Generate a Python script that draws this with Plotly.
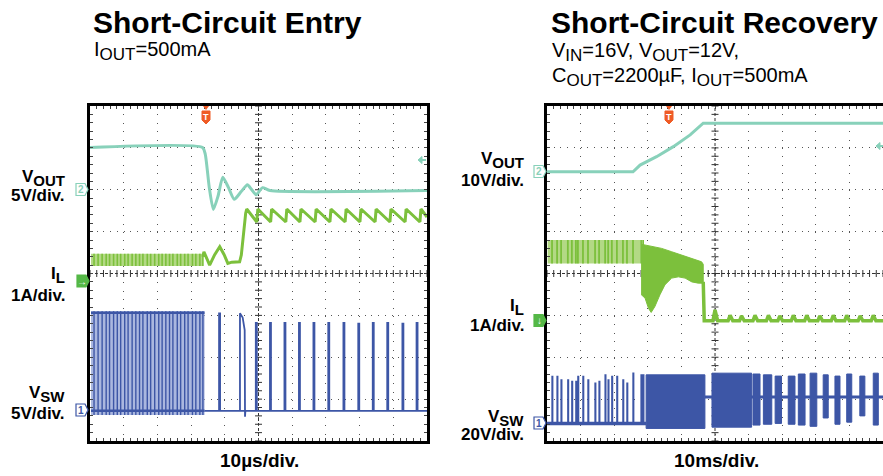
import plotly.graph_objects as go

# ---------------- DATA (x: time, y: screen divisions, 0 = bottom, 8 = top) ----------------
# Short-Circuit Entry (10 us/div) -> time axis 0..100 us
entry_vout_t = [0, 33.4, 34.2, 35.4, 36.6, 38.0, 39.4, 41.1, 42.8, 44.8, 46.7, 48.0, 49.3, 51.2, 53.4, 100]
entry_vout_y = [7.01, 7.01, 6.85, 6.05, 5.53, 5.85, 6.30, 6.05, 5.77, 5.95, 6.12, 6.00, 5.88, 6.05, 5.98, 5.98]

entry_switch_t = [1.2, 2.4, 3.6, 4.8, 5.8, 7.0, 8.1, 9.1, 10.3, 11.3, 12.5, 13.6, 14.7, 15.7, 17.0,
                  18.0, 19.2, 20.4, 21.4, 22.5, 23.6, 24.6, 25.9, 26.9, 28.1, 29.1, 30.4, 31.4, 32.6, 33.5]
entry_sw_span = [0.3, 34.0]
entry_sw_high = 3.06
entry_sw_low = 0.72
entry_sw_band = [0.62, 3.10]

entry_il_span = [0.3, 33.5]
entry_il_band = [4.18, 4.47]
entry_il_t = [33.5, 33.8, 35.5, 37.0, 38.5, 39.8, 40.9, 42.1, 44.4, 44.9, 46.2, 46.5,
              49.5, 49.8, 53.6, 53.9, 58.1, 58.4, 62.3, 62.6, 66.8, 67.1, 71.2, 71.5,
              75.7, 76.0, 80.1, 80.4, 84.6, 84.9, 89.0, 89.3, 93.5, 93.8, 97.9, 98.2, 100]
entry_il_y = [4.40, 4.52, 4.20, 4.45, 4.64, 4.45, 4.24, 4.27, 4.28, 4.44, 5.44, 5.54,
              5.23, 5.54, 5.23, 5.54, 5.23, 5.54, 5.23, 5.54, 5.23, 5.54, 5.23, 5.54,
              5.23, 5.54, 5.23, 5.54, 5.23, 5.54, 5.23, 5.54, 5.23, 5.54, 5.23, 5.54, 5.35]

entry_pulse_t = [38.3, 49.2, 53.4, 57.7, 62.0, 66.3, 70.7, 75.2, 79.6, 83.9, 88.2, 92.7, 96.9]
entry_pulse_top = [3.05, 2.82, 2.82, 2.82, 2.82, 2.82, 2.82, 2.82, 2.80, 2.82, 2.82, 2.80, 2.82]
entry_decay_t = [44.5, 44.5, 45.3, 45.9, 46.0, 46.1]
entry_decay_y = [0.72, 3.05, 2.95, 2.65, 0.58, 0.72]

# Short-Circuit Recovery (10 ms/div) -> time axis 0..100 ms
rec_vout_t = [0, 25.6, 27.7, 32.6, 37.6, 42.6, 46.5, 100]
rec_vout_y = [6.43, 6.43, 6.59, 6.79, 7.03, 7.31, 7.59, 7.59]

rec_il_span = [0.2, 27.7]
rec_il_band = [4.24, 4.80]
rec_il_up_t = [28.0, 29.2, 31.2, 34.1, 37.1, 40.1, 43.1, 46.0, 46.5]
rec_il_up_y = [4.70, 4.68, 4.64, 4.60, 4.52, 4.44, 4.36, 4.28, 4.22]
rec_il_lo_t = [28.0, 29.2, 30.2, 31.0, 32.1, 33.6, 35.1, 37.1, 39.1, 41.1, 43.1, 45.0, 46.5]
rec_il_lo_y = [3.50, 3.41, 3.17, 3.07, 3.21, 3.49, 3.73, 3.89, 3.92, 3.89, 3.80, 3.77, 3.77]
rec_il_drop_t = [46.5, 46.8]
rec_il_drop_y = [3.80, 2.87]
rec_il_base = 2.87
rec_il_ripple_t = [50.0, 54.5, 57.9, 61.9, 65.9, 69.3, 73.3, 77.3, 81.2, 85.2, 89.2, 93.2, 97.1]
rec_il_ripple_top = [3.13, 3.00, 2.99, 3.00, 3.00, 2.99, 3.00, 3.00, 2.99, 3.00, 3.00, 2.99, 3.00]

rec_switch_t = [1.5, 3.0, 4.2, 6.2, 7.4, 8.6, 9.2, 10.7, 12.2, 14.3, 15.5, 17.3, 18.2, 19.3, 20.8,
                22.6, 23.8, 25.6, 28.0, 28.6]
rec_switch_top = [1.54, 1.54, 1.46, 1.46, 1.42, 1.42, 1.54, 1.54, 1.46, 1.38, 1.42, 1.58, 1.46, 1.54,
                  1.54, 1.46, 1.38, 1.62, 1.58, 1.58]
rec_sw_low = 0.42
rec_sw_low_span = [0.0, 29.5]
rec_sw_mid = 1.05
rec_sw_mid_span = [47.0, 100]
rec_burst_start = [29.5, 49.1, 61.3, 64.4, 67.9, 71.8, 74.8, 78.3, 82.2, 85.7, 89.2, 93.1, 97.1]
rec_burst_end = [47.0, 60.9, 63.4, 66.9, 69.8, 73.8, 76.8, 80.3, 83.7, 87.2, 90.7, 94.6, 98.6]
rec_burst_top = [1.58, 1.62, 1.60, 1.58, 1.55, 1.55, 1.60, 1.62, 1.58, 1.55, 1.60, 1.55, 1.62]
rec_burst_bot = [0.30, 0.33, 0.38, 0.40, 0.42, 0.40, 0.38, 0.35, 0.55, 0.40, 0.45, 0.60, 0.38]

# ---------------- STYLE ----------------
W, H = 883, 476
TEAL = '#88d1ba'
GREEN = '#7cc03c'
GREEN_L = '#b3d985'
BLUE = '#3d56a6'
BLUE_L = '#aab7df'
ORANGE = '#ef5b25'
MGREEN = '#55b847'
FONT = 'Liberation Sans, Arial, Helvetica, sans-serif'


def PX(x):
    return x / W


def PY(y):
    return 1 - y / H


def spikes(times, tops, base, w, start, end):
    xs, ys = [start], [base]
    for t, top in zip(times, tops):
        xs += [t, t, t + w, t + w]
        ys += [base, top, top, base]
    xs.append(end)
    ys.append(base)
    return xs, ys


def vlines(times, y0, y1):
    xs, ys = [], []
    for t in times:
        xs += [t, t, None]
        ys += [y0, y1, None]
    return xs, ys


def band(span, lohi):
    return [span[0], span[1], span[1], span[0], span[0]], [lohi[0], lohi[0], lohi[1], lohi[1], lohi[0]]


fig = go.Figure()
panels = [('x', 'y'), ('x2', 'y2')]

# centre-line tick marks
for xa, ya in panels:
    fig.add_trace(go.Scatter(x=[i * 2 for i in range(51)], y=[4] * 51, xaxis=xa, yaxis=ya, mode='markers',
                             marker=dict(symbol='line-ns', size=5, line=dict(width=1, color='#333')),
                             hoverinfo='skip', showlegend=False))
    fig.add_trace(go.Scatter(x=[50] * 41, y=[i * 0.2 for i in range(41)], xaxis=xa, yaxis=ya, mode='markers',
                             marker=dict(symbol='line-ew', size=5, line=dict(width=1, color='#333')),
                             hoverinfo='skip', showlegend=False))

# ---- Entry panel ----
bx, by = band(entry_sw_span, entry_sw_band)
fig.add_trace(go.Scatter(x=bx, y=by, fill='toself', fillcolor=BLUE_L, line=dict(width=0), mode='lines',
                         hoverinfo='skip', showlegend=False))
vx, vy = vlines(entry_switch_t, entry_sw_band[0], entry_sw_band[1])
fig.add_trace(go.Scatter(x=vx, y=vy, mode='lines', line=dict(color=BLUE, width=1.4), showlegend=False))
for lvl in (entry_sw_high, entry_sw_low):
    fig.add_trace(go.Scatter(x=entry_sw_span, y=[lvl, lvl], mode='lines', line=dict(color=BLUE, width=2.5),
                             showlegend=False))
sx, sy = spikes(entry_pulse_t, entry_pulse_top, entry_sw_low, 0.3, entry_sw_span[1], 100)
fig.add_trace(go.Scatter(x=sx, y=sy, mode='lines', line=dict(color=BLUE, width=1.8), showlegend=False))
fig.add_trace(go.Scatter(x=entry_decay_t, y=entry_decay_y, mode='lines', line=dict(color=BLUE, width=1.8),
                         showlegend=False))

bx, by = band(entry_il_span, entry_il_band)
fig.add_trace(go.Scatter(x=bx, y=by, fill='toself', fillcolor=GREEN_L, line=dict(width=0), mode='lines',
                         hoverinfo='skip', showlegend=False))
vx, vy = vlines(entry_switch_t, entry_il_band[0], entry_il_band[1])
fig.add_trace(go.Scatter(x=vx, y=vy, mode='lines', line=dict(color=GREEN, width=1.6), showlegend=False))
fig.add_trace(go.Scatter(x=entry_il_t, y=entry_il_y, mode='lines', line=dict(color=GREEN, width=3),
                         showlegend=False))

fig.add_trace(go.Scatter(x=entry_vout_t, y=entry_vout_y, mode='lines',
                         line=dict(color=TEAL, width=3, shape='spline', smoothing=0.6), showlegend=False))

# ---- Recovery panel ----
fig.add_trace(go.Scatter(x=rec_sw_mid_span, y=[rec_sw_mid] * 2, xaxis='x2', yaxis='y2', mode='lines',
                         line=dict(color=BLUE, width=3), showlegend=False))
px_, py_ = [], []
for s, e, t, b in zip(rec_burst_start, rec_burst_end, rec_burst_top, rec_burst_bot):
    px_ += [s, e, e, s, s, None]
    py_ += [b, b, t, t, b, None]
fig.add_trace(go.Scatter(x=px_, y=py_, xaxis='x2', yaxis='y2', mode='lines', fill='toself', fillcolor=BLUE,
                         line=dict(color=BLUE, width=1), showlegend=False))
sx, sy = spikes(rec_switch_t, rec_switch_top, rec_sw_low, 0.2, rec_sw_low_span[0], rec_sw_low_span[1])
fig.add_trace(go.Scatter(x=sx, y=sy, xaxis='x2', yaxis='y2', mode='lines', line=dict(color=BLUE, width=1.4),
                         showlegend=False))
fig.add_trace(go.Scatter(x=rec_sw_low_span, y=[rec_sw_low] * 2, xaxis='x2', yaxis='y2', mode='lines',
                         line=dict(color=BLUE, width=3.5), showlegend=False))

bx, by = band(rec_il_span, rec_il_band)
fig.add_trace(go.Scatter(x=bx, y=by, xaxis='x2', yaxis='y2', fill='toself', fillcolor=GREEN_L,
                         line=dict(width=0), mode='lines', hoverinfo='skip', showlegend=False))
vx, vy = vlines(rec_switch_t, rec_il_band[0], rec_il_band[1])
fig.add_trace(go.Scatter(x=vx, y=vy, xaxis='x2', yaxis='y2', mode='lines', line=dict(color=GREEN, width=1.8),
                         showlegend=False))
ex = rec_il_up_t + rec_il_lo_t[::-1]
ey = rec_il_up_y + rec_il_lo_y[::-1]
fig.add_trace(go.Scatter(x=ex, y=ey, xaxis='x2', yaxis='y2', fill='toself', fillcolor=GREEN, mode='lines',
                         line=dict(color=GREEN, width=1), showlegend=False))
rx = list(rec_il_drop_t)
ry = list(rec_il_drop_y)
for t, top in zip(rec_il_ripple_t, rec_il_ripple_top):
    rx += [t - 0.6, t, t + 0.8]
    ry += [rec_il_base, top, rec_il_base]
rx.append(100)
ry.append(rec_il_base)
fig.add_trace(go.Scatter(x=rx, y=ry, xaxis='x2', yaxis='y2', mode='lines', line=dict(color=GREEN, width=3.5),
                         showlegend=False))

fig.add_trace(go.Scatter(x=rec_vout_t, y=rec_vout_y, xaxis='x2', yaxis='y2', mode='lines',
                         line=dict(color=TEAL, width=3), showlegend=False))


# ---------------- AXES ----------------
def xax(domain, anchor, mirror):
    return dict(domain=domain, anchor=anchor, range=[0, 100], dtick=10, tick0=0, showgrid=True,
                gridcolor='#555', gridwidth=1, griddash='1px,7.4px', zeroline=False, showline=True,
                linecolor='black', linewidth=2.5, mirror=mirror, ticks='inside', ticklen=3, tickcolor='#444',
                showticklabels=False, fixedrange=True,
                minor=dict(dtick=2, tick0=0, ticks='inside', ticklen=3, tickcolor='#444', showgrid=False))


def yax(domain, anchor, mirror):
    return dict(domain=domain, anchor=anchor, range=[0, 8], dtick=1, tick0=0, showgrid=True,
                gridcolor='#555', gridwidth=1, griddash='1px,5.7px', zeroline=False, showline=True,
                linecolor='black', linewidth=2.5, mirror=mirror, ticks='inside', ticklen=3, tickcolor='#444',
                showticklabels=False, fixedrange=True,
                minor=dict(dtick=0.2, tick0=0, ticks='inside', ticklen=3, tickcolor='#444', showgrid=False))


ydom = [PY(441), PY(106)]
fig.update_layout(
    width=W, height=H, autosize=False, margin=dict(l=0, r=0, t=0, b=0),
    paper_bgcolor='white', plot_bgcolor='white', showlegend=False,
    xaxis=xax([PX(90), PX(427)], 'y', 'ticks'),
    yaxis=yax(ydom, 'x', 'ticks'),
    xaxis2=xax([PX(547), 1.0], 'y2', 'ticks'),
    yaxis2=yax(ydom, 'x2', False),
)

shapes = []
for xr, yr in (('x', 'y'), ('x2', 'y2')):
    shapes.append(dict(type='line', xref=xr, yref=yr, x0=50, x1=50, y0=0, y1=8,
                       line=dict(color='#333', width=1, dash='3px,2px'), layer='below'))
    shapes.append(dict(type='line', xref=xr, yref=yr, x0=0, x1=100, y0=4, y1=4,
                       line=dict(color='#333', width=1, dash='3px,2px'), layer='below'))


def path(pts):
    return 'M ' + ' L '.join(f'{PX(x):.5f},{PY(y):.5f}' for x, y in pts) + ' Z'


def pent(x0, yc, h, fill, line):
    pts = [(x0, yc - h / 2), (x0 + 9, yc - h / 2), (x0 + 12, yc), (x0 + 9, yc + h / 2), (x0, yc + h / 2)]
    return dict(type='path', xref='paper', yref='paper', path=path(pts), fillcolor=fill,
                line=dict(color=line, width=1.2))


annotations = []


def txt(text, x, y, size, color='black', xanchor='center', yanchor='middle', bold=False):
    if bold:
        text = f'<b>{text}</b>'
    annotations.append(dict(text=text, x=PX(x), y=PY(y), xref='paper', yref='paper', showarrow=False,
                            xanchor=xanchor, yanchor=yanchor, font=dict(family=FONT, size=size, color=color)))


# channel markers
for x0, yc, col, lab, filled in ((76, 189.5, TEAL, '2', False), (77, 281, MGREEN, '→', True), (76, 410, BLUE, '1', False),
                                 (534, 171.5, TEAL, '2', False), (534, 320.5, MGREEN, '↓', True),
                                 (534, 423, BLUE, '1', False)):
    shapes.append(pent(x0, yc, 12, col if filled else 'white', col))
    txt(lab, x0 + 5, yc, 10, 'white' if filled else col, bold=True)

# trigger markers
for xc in (206, 669):
    shapes.append(dict(type='path', xref='paper', yref='paper', fillcolor=ORANGE, line=dict(color=ORANGE, width=1),
                       path=path([(xc - 4, 111), (xc + 4, 111), (xc + 4, 120), (xc, 124), (xc - 4, 120)])))
    shapes.append(dict(type='path', xref='paper', yref='paper', fillcolor=ORANGE, line=dict(color=ORANGE, width=0),
                       path=path([(xc - 3, 106), (xc + 3, 106), (xc, 110)])))
    txt('T', xc, 116.5, 9, 'white', bold=True)

# trigger level arrows
for xa, ya in ((418, 160), (876, 146)):
    shapes.append(dict(type='path', xref='paper', yref='paper', fillcolor=TEAL, line=dict(color=TEAL, width=1),
                       path=path([(xa, ya), (xa + 4, ya - 3.5), (xa + 4, ya + 3.5)])))
    shapes.append(dict(type='line', xref='paper', yref='paper', x0=PX(xa + 3), x1=PX(xa + 8), y0=PY(ya), y1=PY(ya),
                       line=dict(color=TEAL, width=2)))


def SUB(s, sz):
    return f"<sub><span style='font-size:{sz}px'>{s}</span></sub>"


# titles
txt('Short-Circuit Entry', 91, 22, 30, xanchor='left', bold=True)
txt('Short-Circuit Recovery', 549, 22, 30, xanchor='left', bold=True)
txt('I' + SUB('OUT', 17) + '=500mA', 92, 51, 20, xanchor='left')
txt('V' + SUB('IN', 17) + '=16V, V' + SUB('OUT', 17) + '=12V,', 550, 52, 20, xanchor='left')
txt('C' + SUB('OUT', 17) + '=2200µF, I' + SUB('OUT', 17) + '=500mA', 550, 77, 20, xanchor='left')

# channel labels
for xr, items in ((67, (('V' + SUB('OUT', 15), 178), ('5V/div.', 195), ('I' + SUB('L', 15), 275), ('1A/div.', 295),
                        ('V' + SUB('SW', 15), 394), ('5V/div.', 413))),
                  (526, (('V' + SUB('OUT', 15), 160), ('10V/div.', 180), ('I' + SUB('L', 15), 307),
                         ('1A/div.', 325), ('V' + SUB('SW', 15), 418), ('20V/div.', 434)))):
    for t, y in items:
        txt(t, xr, y, 17, xanchor='right', bold=True)

txt('10µs/div.', 259, 460, 19, bold=True)
txt('10ms/div.', 716.5, 460, 19, bold=True)

fig.update_layout(shapes=shapes, annotations=annotations)
fig.write_html('out.html', config={'displayModeBar': False},
               post_script="document.body.style.margin='0';document.body.style.padding='0';")
